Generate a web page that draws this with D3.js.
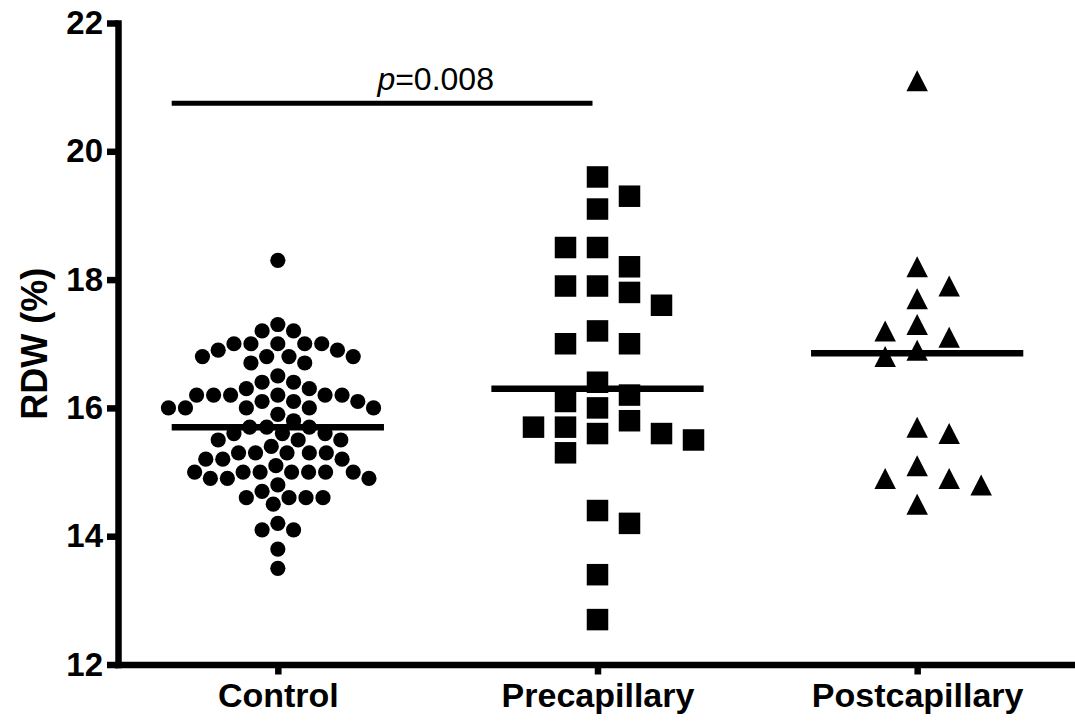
<!DOCTYPE html>
<html lang="en">
<head>
<meta charset="UTF-8">
<title>RDW by group</title>
<script src="https://d3js.org/d3.v7.min.js"></script>
<style>
  body { margin: 0; background: #fff; }
  svg { display: block; }
</style>
</head>
<body>
<svg></svg>
<script>
  // svg size and plot frame
  const width = 1075, height = 722
  const margin = {top: 23, right: -2, bottom: 58, left: 118}

  const categories = ['Control', 'Precapillary', 'Postcapillary']
  const yTicks = [12, 14, 16, 18, 20, 22]

  // RDW (%) values
  const control = [
    18.3, 17.3, 17.2, 17.2,
    17.0, 17.0, 17.0, 17.0, 17.0, 16.9, 16.9,
    16.8, 16.8, 16.8, 16.8, 16.7, 16.7, 16.5,
    16.4, 16.4, 16.3, 16.3,
    16.2, 16.2, 16.2, 16.2, 16.2, 16.2, 16.1, 16.1, 16.1,
    16.0, 16.0, 16.0, 16.0, 16.0, 15.9, 15.8,
    15.7, 15.7, 15.7, 15.6, 15.6, 15.6, 15.5, 15.5, 15.5, 15.4,
    15.3, 15.3, 15.3, 15.3, 15.3, 15.2, 15.2, 15.2, 15.1,
    15.0, 15.0, 15.0, 15.0, 15.0, 15.0, 15.0, 14.9, 14.9, 14.9,
    14.8, 14.7, 14.6, 14.6, 14.6, 14.6, 14.5,
    14.2, 14.1, 14.1, 13.8, 13.5
  ]
  const precapillary = [
    19.6, 19.3, 19.1, 18.5, 18.5, 18.2, 17.9, 17.9, 17.8, 17.6,
    17.2, 17.0, 17.0, 16.4, 16.2, 16.1, 16.0, 15.8, 15.7, 15.7,
    15.6, 15.6, 15.5, 15.3, 14.4, 14.2, 13.4, 12.7
  ]
  const postcapillary = [
    21.1, 18.2, 17.9, 17.7, 17.3, 17.2, 17.1, 16.9, 16.8,
    15.7, 15.6, 15.1, 14.9, 14.9, 14.8, 14.5
  ]

  // p value annotation between Control and Precapillary
  const pLabel = '0.008'
  const pBarValue = 20.75

  const x = d3.scalePoint()
      .domain(categories)
      .range([margin.left, width - margin.right])
      .padding(0.5)

  const y = d3.scaleLinear()
      .domain([12, 22])
      .range([height - margin.bottom + 0.5, margin.top])

  const svg = d3.select('svg')
      .attr('width', width)
      .attr('height', height)
      .attr('viewBox', [0, 0, width, height])
      .attr('font-family', '"Liberation Sans", Arial, sans-serif')

  // simple beeswarm: each point goes to the free offset nearest the centre line
  function swarm(values, gap) {
    const placed = []
    let flip = 1
    values.map(v => ({v, py: y(v)}))
        .sort((a, b) => d3.descending(a.v, b.v))
        .forEach(p => {
          const blocks = []
          placed.forEach(q => {
            const w = gap(Math.abs(q.py - p.py))
            if (w > 0) blocks.push([q.dx - w, q.dx + w])
          })
          const free = c => blocks.every(b => c <= b[0] + 1e-6 || c >= b[1] - 1e-6)
          const cands = [0]
          blocks.forEach(b => cands.push(b[0], b[1]))
          cands.sort((a, b) => Math.abs(a) - Math.abs(b))
          let dx = cands.find(free)
          if (dx !== 0 && free(-dx)) {
            dx = Math.abs(dx) * flip
            flip = -flip
          }
          p.dx = dx
          placed.push(p)
        })
    return placed
  }

  const circleGap = dy => dy < 17 ? Math.sqrt(17 * 17 - dy * dy) : 0
  const boxGap = dy => dy < 22 ? 32 : 0

  const groups = [
    {name: 'Control', values: control, gap: circleGap, shape: 'circle'},
    {name: 'Precapillary', values: precapillary, gap: boxGap, shape: 'square'},
    {name: 'Postcapillary', values: postcapillary, gap: boxGap, shape: 'triangle'}
  ]

  const half = x.step() * 0.332
  const black = '#000'

  groups.forEach(g => {
    const pts = swarm(g.values, g.gap)
    const cx = x(g.name)
    const layer = svg.append('g')
    if (g.shape === 'circle') {
      layer.selectAll('circle').data(pts).join('circle')
          .attr('cx', d => cx + d.dx)
          .attr('cy', d => d.py)
          .attr('r', 7.6)
          .attr('fill', black)
    } else if (g.shape === 'square') {
      const s = 21.5
      layer.selectAll('rect').data(pts).join('rect')
          .attr('x', d => cx + d.dx - s / 2)
          .attr('y', d => d.py - s / 2)
          .attr('width', s)
          .attr('height', s)
          .attr('fill', black)
    } else {
      const w = 21.5, h = 21
      layer.selectAll('path').data(pts).join('path')
          .attr('transform', d => `translate(${cx + d.dx},${d.py})`)
          .attr('d', `M0,${-h / 2}L${w / 2},${h / 2}L${-w / 2},${h / 2}Z`)
          .attr('fill', black)
    }
    // median line
    const m = d3.median(g.values)
    svg.append('line')
        .attr('x1', cx - half)
        .attr('x2', cx + half)
        .attr('y1', y(m))
        .attr('y2', y(m))
        .attr('stroke', black)
        .attr('stroke-width', 6.5)
  })

  // significance bar
  const barY = y(pBarValue)
  svg.append('line')
      .attr('x1', x('Control') - half)
      .attr('x2', x('Precapillary') - 5)
      .attr('y1', barY)
      .attr('y2', barY)
      .attr('stroke', black)
      .attr('stroke-width', 5)
  const pText = svg.append('text')
      .attr('x', (x('Control') + x('Precapillary')) / 2 - 2)
      .attr('y', barY - 13)
      .attr('text-anchor', 'middle')
      .attr('font-size', 32)
  pText.append('tspan').attr('font-style', 'italic').text('p')
  pText.append('tspan').text('=' + pLabel)

  // axes
  const yAxis = svg.append('g')
      .attr('transform', `translate(${margin.left},0)`)
      .call(d3.axisLeft(y).tickValues(yTicks).tickSize(11).tickSizeOuter(0).tickPadding(4))
  const xAxis = svg.append('g')
      .attr('transform', `translate(0,${y(12)})`)
      .call(d3.axisBottom(x).tickSize(10).tickSizeOuter(0).tickPadding(8.5))

  ;[yAxis, xAxis].forEach(a => {
    a.select('.domain').attr('stroke-width', 6.5).attr('stroke-linecap', 'square')
    a.selectAll('.tick line').attr('stroke-width', 6.5)
    a.selectAll('.tick text')
        .attr('fill', black)
        .attr('font-family', '"Liberation Sans", Arial, sans-serif')
        .attr('font-weight', 'bold')
  })
  yAxis.selectAll('.tick text').attr('font-size', 33)
  xAxis.selectAll('.tick text').attr('font-size', 34)

  // y axis title
  svg.append('text')
      .attr('transform', `translate(47,${(y(12) + y(22)) / 2}) rotate(-90)`)
      .attr('text-anchor', 'middle')
      .attr('font-size', 36)
      .attr('font-weight', 'bold')
      .text('RDW (%)')
</script>
</body>
</html>
